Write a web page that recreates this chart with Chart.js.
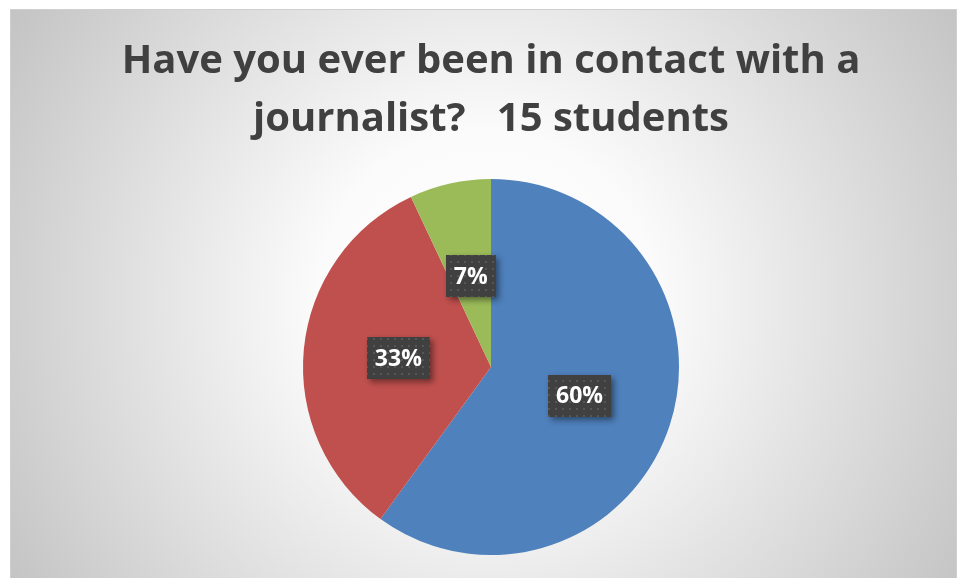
<!DOCTYPE html>
<html>
<head>
<meta charset="utf-8">
<script src="https://cdn.jsdelivr.net/npm/chart.js@4/dist/chart.umd.min.js"></script>
<style>
  html, body { margin: 0; padding: 0; background: #ffffff; }
  #wrap { width: 960px; height: 578px; }
</style>
</head>
<body>
<div id="wrap"><canvas id="pie" width="960" height="578"></canvas></div>
<script>
// Survey answers, in percent of the 15 students asked
const sliceNames = ['Slice 1', 'Slice 2', 'Slice 3'];
const shares = [60, 33, 7];
const sliceColors = ['#4f81bd', '#c0504d', '#9bbb59'];
const titleLines = ['Have you ever been in contact with a', 'journalist?   15 students'];

// Framed panel with a soft radial fill and the two-line heading
const panelPlugin = {
  id: 'panel',
  beforeDraw(chart) {
    const ctx = chart.ctx;
    ctx.save();
    ctx.fillStyle = '#ffffff';
    ctx.fillRect(0, 0, chart.width, chart.height);
    const x0 = 10, y0 = 9, x1 = 957, y1 = 578;
    const cx = 486, cy = 300;
    const g = ctx.createRadialGradient(cx, cy, 0, cx, cy, 560);
    g.addColorStop(0, '#ffffff');
    g.addColorStop(0.3, '#fbfbfb');
    g.addColorStop(1, '#c3c3c3');
    ctx.fillStyle = g;
    ctx.fillRect(x0, y0, x1 - x0, y1 - y0);
    ctx.strokeStyle = '#cfcfcf';
    ctx.lineWidth = 1;
    ctx.strokeRect(x0 + 0.5, y0 + 0.5, x1 - x0 - 1, y1 - y0);
    ctx.fillStyle = '#404040';
    ctx.font = 'bold 40px "Open Sans", "Liberation Sans", sans-serif';
    ctx.textAlign = 'center';
    ctx.textBaseline = 'middle';
    ctx.fillText(titleLines[0], 491, 62);
    ctx.fillText(titleLines[1], 491, 120);
    ctx.restore();
  }
};

// Dark dotted tag boxes carrying each slice's share
const tagPlugin = {
  id: 'tags',
  afterDatasetsDraw(chart) {
    const ctx = chart.ctx;
    const meta = chart.getDatasetMeta(0);
    const tile = document.createElement('canvas');
    tile.width = 7; tile.height = 7;
    const tc = tile.getContext('2d');
    tc.fillStyle = '#404040';
    tc.fillRect(0, 0, 7, 7);
    tc.fillStyle = '#565656';
    tc.fillRect(2, 2, 2, 2);
    const pattern = ctx.createPattern(tile, 'repeat');
    ctx.save();
    ctx.font = 'bold 23px "Open Sans", "Liberation Sans", sans-serif';
    ctx.textAlign = 'center';
    ctx.textBaseline = 'middle';
    meta.data.forEach((arc, i) => {
      const p = arc.getProps(['x', 'y', 'startAngle', 'endAngle', 'outerRadius'], true);
      const mid = (p.startAngle + p.endAngle) / 2;
      const r = p.outerRadius * 0.495;
      const lx = p.x + Math.cos(mid) * r;
      const ly = p.y + Math.sin(mid) * r;
      const text = shares[i] + '%';
      const tw = ctx.measureText(text).width;
      const bw = tw + 16, bh = 42;
      const bx = Math.round(lx - bw / 2), by = Math.round(ly - bh / 2);
      ctx.save();
      ctx.shadowColor = 'rgba(0,0,0,0.45)';
      ctx.shadowBlur = 6;
      ctx.shadowOffsetX = 3;
      ctx.shadowOffsetY = 3;
      ctx.fillStyle = pattern;
      ctx.fillRect(bx, by, bw, bh);
      ctx.restore();
      ctx.fillStyle = '#ffffff';
      ctx.fillText(text, lx, ly + 1);
    });
    ctx.restore();
  }
};

new Chart(document.getElementById('pie'), {
  type: 'pie',
  data: {
    labels: sliceNames,
    datasets: [{
      data: shares,
      backgroundColor: sliceColors,
      borderWidth: 0
    }]
  },
  options: {
    responsive: false,
    animation: false,
    layout: { padding: { left: 303, right: 281, top: 179, bottom: 23 } },
    plugins: {
      legend: { display: false },
      title: { display: false },
      tooltip: { enabled: false }
    }
  },
  plugins: [panelPlugin, tagPlugin]
});
</script>
</body>
</html>
